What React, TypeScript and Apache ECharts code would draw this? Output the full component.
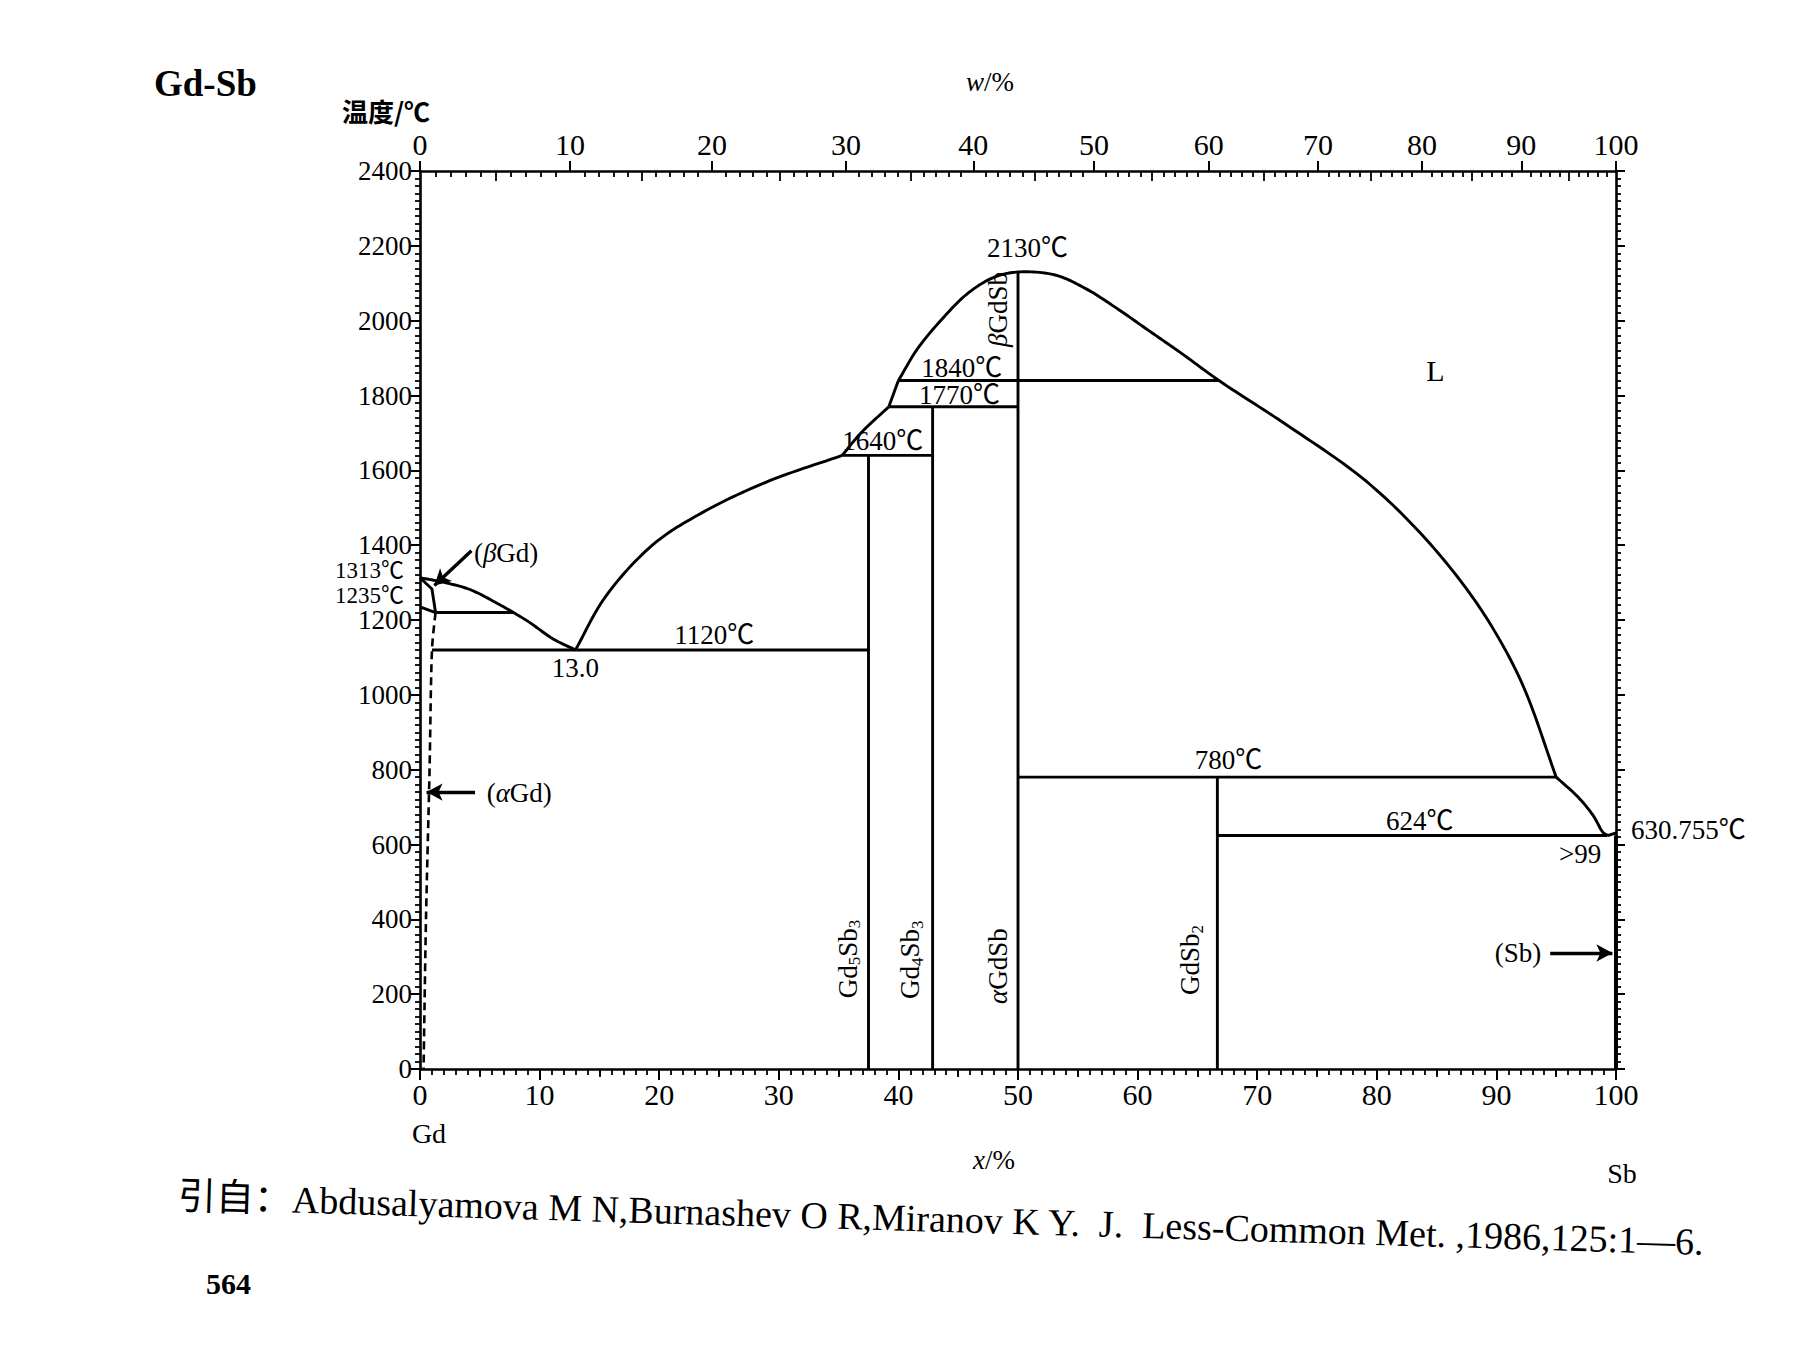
import React, { useEffect, useRef } from "react";
import * as echarts from "echarts";

const SERIF = "'Liberation Serif','Times New Roman','Noto Sans CJK SC',serif";
const CJK = "'Noto Sans CJK SC','Liberation Serif',sans-serif";

// ---- axis ticks ----
const wMajor = [0, 10, 20, 30, 40, 50, 60, 70, 80, 90, 100];
const wMid = [5, 15, 25, 35, 45, 55, 65, 75, 85, 95];
const tempTicks = [0, 200, 400, 600, 800, 1000, 1200, 1400, 1600, 1800, 2000, 2200, 2400];
const M_GD = 157.25;
const M_SB = 121.76;

// ---- phase boundaries (x = at.% Sb, y = temperature °C) ----
const liquidusGd = [[0, 1313], [2.1, 1300], [4.2, 1281], [6.6, 1242], [9.0, 1197], [11.1, 1150], [13.0, 1120]];
const liquidusToGd5Sb3 = [[13.0, 1120], [15.5, 1262], [19.5, 1402], [23.6, 1487], [28.9, 1568], [35.3, 1640]];
const liquidus1640to1770 = [[35.3, 1640], [36.9, 1701], [39.2, 1770]];
const liquidus1770to1840 = [[39.2, 1770], [40.0, 1840]];
const liquidusGdSbLeft = [[40.0, 1840], [41.6, 1925], [43.5, 1999], [45.8, 2073], [48.0, 2116], [50.0, 2130]];
const liquidusGdSbRight = [[50.0, 2130], [53.1, 2122], [55.7, 2085], [58.4, 2030], [61.0, 1972], [63.7, 1912], [66.8, 1840]];
const liquidusSbSide = [[66.8, 1840], [72.2, 1727], [78.8, 1579], [83.3, 1444], [87.3, 1292], [90.0, 1162], [92.3, 1019], [95.0, 780]];
const liquidusSbEnd = [[95.0, 780], [96.85, 726], [98.1, 677], [98.9, 633], [99.3, 624]];
const sbMelting = [[99.3, 624], [100, 630.755]];
const betaGdSolidus = [[0, 1313], [1.0, 1283], [1.3, 1220]];
const betaAlphaGd = [[0, 1235], [1.3, 1220]];
const alphaGdSolvus = [[1.3, 1220], [1.0, 1120], [0.8, 800], [0.5, 400], [0.3, 0]];
const iso1220 = [[1.3, 1220], [7.8, 1220]];
const iso1120 = [[1.0, 1120], [37.5, 1120]];
const iso1640 = [[35.3, 1640], [42.86, 1640]];
const iso1770 = [[39.2, 1770], [50, 1770]];
const iso1840 = [[40.0, 1840], [66.8, 1840]];
const iso780 = [[50, 780], [95.0, 780]];
const iso624 = [[66.67, 624], [99.3, 624]];
const gd5sb3 = [[37.5, 0], [37.5, 1640]];
const gd4sb3 = [[42.86, 0], [42.86, 1770]];
const gdsb = [[50, 0], [50, 2130]];
const gdsb2 = [[66.67, 0], [66.67, 780]];
const sbSolid = [[100, 0], [100, 624]];

// ---- arrows [from, to] ----
const arrowBetaGd = [[4.3, 1385], [1.2, 1292]];
const arrowAlphaGd = [[4.6, 740], [0.55, 740]];
const arrowSb = [[94.5, 310], [99.7, 310]];

// ---- annotation texts (data coordinates) ----
const annotations: any[] = [
  { text: "2130℃", x: 50.8, y: 2195 },
  { text: "1840℃", x: 45.3, y: 1874 },
  { text: "1770℃", x: 45.1, y: 1802 },
  { text: "1640℃", x: 38.7, y: 1678 },
  { text: "1120℃", x: 24.6, y: 1160 },
  { text: "13.0", x: 13.0, y: 1073 },
  { text: "780℃", x: 67.6, y: 827 },
  { text: "624℃", x: 83.6, y: 662 },
  { text: ">99", x: 97.0, y: 574 },
  { text: "630.755℃", x: 100, y: 639, dx: 15, align: "left" },
  { text: "(Sb)", x: 91.8, y: 310 },
  { text: "L", x: 84.9, y: 1867, size: 30 },
  { text: "({i|α}Gd)", x: 8.3, y: 737 },
  { text: "({i|β}Gd)", x: 7.2, y: 1380 },
  { text: "1313℃", x: 0, y: 1331, dx: -16, align: "right", size: 23 },
  { text: "1235℃", x: 0, y: 1266, dx: -16, align: "right", size: 23 },
  { text: "{i|β}GdSb", x: 48.3, y: 2030, rot: true },
  { text: "Gd{s|5}Sb{s|3}", x: 35.75, y: 294, rot: true },
  { text: "Gd{s|4}Sb{s|3}", x: 41.0, y: 292, rot: true },
  { text: "{i|α}GdSb", x: 48.3, y: 275, rot: true },
  { text: "GdSb{s|2}", x: 64.4, y: 291, rot: true },
];

const wToX = (w: number) =>
  w <= 0 ? 0 : w >= 100 ? 100 : (100 * (w / M_SB)) / (w / M_SB + (100 - w) / M_GD);

const wMinor: number[] = [];
for (let w = 1; w < 100; w++) if (w % 5 !== 0) wMinor.push(w);

const BLACK = "#000";
const LW = 2.9;

// centripetal Catmull-Rom through the (pixel) points, for drawing only
function spline(pts: number[][], steps = 14): number[][] {
  if (pts.length < 3) return pts;
  const out: number[][] = [];
  const n = pts.length;
  const get = (i: number) => {
    if (i < 0) return [2 * pts[0][0] - pts[1][0], 2 * pts[0][1] - pts[1][1]];
    if (i >= n) return [2 * pts[n - 1][0] - pts[n - 2][0], 2 * pts[n - 1][1] - pts[n - 2][1]];
    return pts[i];
  };
  const d = (a: number[], b: number[]) => Math.max(Math.sqrt(Math.hypot(b[0] - a[0], b[1] - a[1])), 1e-4);
  const lerp = (a: number[], b: number[], ta: number, tb: number, t: number) => {
    const u = (t - ta) / (tb - ta);
    return [a[0] + (b[0] - a[0]) * u, a[1] + (b[1] - a[1]) * u];
  };
  for (let i = 0; i < n - 1; i++) {
    const P0 = get(i - 1), P1 = get(i), P2 = get(i + 1), P3 = get(i + 2);
    const t0 = 0, t1 = t0 + d(P0, P1), t2 = t1 + d(P1, P2), t3 = t2 + d(P2, P3);
    for (let k = 0; k < steps; k++) {
      const t = t1 + ((t2 - t1) * k) / steps;
      const A1 = lerp(P0, P1, t0, t1, t);
      const A2 = lerp(P1, P2, t1, t2, t);
      const A3 = lerp(P2, P3, t2, t3, t);
      const B1 = lerp(A1, A2, t0, t2, t);
      const B2 = lerp(A2, A3, t1, t3, t);
      out.push(lerp(B1, B2, t1, t2, t));
    }
  }
  out.push(pts[n - 1]);
  return out;
}

function curve(data: number[][], width = LW) {
  return {
    type: "custom",
    coordinateSystem: "cartesian2d",
    xAxisIndex: 0,
    yAxisIndex: 0,
    silent: true,
    data: [data[0]],
    z: 3,
    renderItem: (_params: any, api: any) => {
      const pts = data.map((p) => api.coord(p));
      return {
        type: "polyline",
        shape: { points: spline(pts) },
        style: { stroke: BLACK, lineWidth: width, fill: "none", lineJoin: "round" },
      };
    },
  };
}

function seg(data: number[][], smooth: number | boolean = false, dashed = false, width = LW) {
  return {
    type: "line",
    data,
    symbol: "none",
    silent: true,
    smooth,
    xAxisIndex: 0,
    yAxisIndex: 0,
    lineStyle: { color: BLACK, width, type: dashed ? [8, 5] : "solid" },
    z: 3,
  };
}

function buildOption() {
  const baseX = { type: "value", min: 0, max: 100, splitLine: { show: false } };
  const tickStyle = { color: BLACK, width: 1.8 };
  const topCurve = liquidusGdSbLeft.concat(liquidusGdSbRight.slice(1), liquidusSbSide.slice(1));
  return {
    animation: false,
    backgroundColor: "#fff",
    grid: { left: 412, right: 171, top: 163, bottom: 269, containLabel: false },
    xAxis: [
      {
        ...baseX,
        position: "bottom",
        interval: 10,
        axisLine: { show: true, onZero: false, lineStyle: { color: BLACK, width: 2.6 } },
        axisTick: { show: true, inside: false, length: 11, lineStyle: { color: BLACK, width: 2 } },
        minorTick: { show: true, splitNumber: 10, length: 6, lineStyle: tickStyle },
        axisLabel: { color: BLACK, fontSize: 30, fontFamily: SERIF, margin: 10, formatter: (v: number) => String(v) },
      },
      {
        ...baseX,
        position: "top",
        axisLine: { show: true, onZero: false, lineStyle: { color: BLACK, width: 2.6 } },
        axisTick: { show: true, inside: false, length: 10, customValues: wMajor.map(wToX), lineStyle: { color: BLACK, width: 2 } },
        axisLabel: {
          color: BLACK,
          fontSize: 30,
          fontFamily: SERIF,
          margin: 12,
          customValues: wMajor.map(wToX),
          formatter: (v: number) => {
            const i = wMajor.findIndex((w) => Math.abs(wToX(w) - v) < 1e-6);
            return i >= 0 ? String(wMajor[i]) : "";
          },
        },
      },
      {
        ...baseX,
        position: "top",
        axisLine: { show: false, onZero: false },
        axisTick: { show: true, inside: true, length: 6, customValues: wMinor.map(wToX), lineStyle: tickStyle },
        axisLabel: { show: false },
      },
      {
        ...baseX,
        position: "top",
        axisLine: { show: false, onZero: false },
        axisTick: { show: true, inside: true, length: 10, customValues: wMid.map(wToX), lineStyle: tickStyle },
        axisLabel: { show: false },
      },
      {
        ...baseX,
        position: "bottom",
        interval: 5,
        axisLine: { show: false, onZero: false },
        axisTick: { show: true, inside: false, length: 8, lineStyle: tickStyle },
        axisLabel: { show: false },
      },
    ],
    yAxis: [
      {
        type: "value",
        position: "left",
        min: tempTicks[0],
        max: tempTicks[tempTicks.length - 1],
        interval: 200,
        splitLine: { show: false },
        axisLine: { show: true, onZero: false, lineStyle: { color: BLACK, width: 2.6 } },
        axisTick: { show: true, inside: false, length: 9, lineStyle: { color: BLACK, width: 2 } },
        minorTick: { show: true, splitNumber: 10, length: 5, lineStyle: tickStyle },
        axisLabel: { color: BLACK, fontSize: 27, fontFamily: SERIF, margin: 8, formatter: (v: number) => String(v) },
      },
      {
        type: "value",
        position: "right",
        min: tempTicks[0],
        max: tempTicks[tempTicks.length - 1],
        interval: 200,
        splitLine: { show: false },
        axisLine: { show: true, onZero: false, lineStyle: { color: BLACK, width: 2.6 } },
        axisTick: { show: true, inside: false, length: 9, lineStyle: { color: BLACK, width: 2 } },
        minorTick: { show: true, splitNumber: 10, length: 5, lineStyle: tickStyle },
        axisLabel: { show: false },
      },
    ],
    series: [
      curve(liquidusGd),
      curve(liquidusToGd5Sb3),
      curve(liquidus1640to1770),
      seg(liquidus1770to1840),
      curve(topCurve),
      curve(liquidusSbEnd),
      seg(sbMelting),
      seg(betaGdSolidus),
      seg(betaAlphaGd),
      seg(alphaGdSolvus, 0.3, true, 2.6),
      seg(iso1220),
      seg(iso1120),
      seg(iso1640),
      seg(iso1770),
      seg(iso1840),
      seg(iso780),
      seg(iso624),
      seg(gd5sb3),
      seg(gd4sb3),
      seg(gdsb),
      seg(gdsb2),
      seg(sbSolid, false, false, 4),
      {
        type: "line",
        data: [],
        symbol: "none",
        silent: true,
        markLine: {
          silent: true,
          animation: false,
          symbol: ["none", "arrow"],
          symbolSize: [13, 16],
          label: { show: false },
          lineStyle: { color: BLACK, width: 3.4, type: "solid" },
          data: [arrowBetaGd, arrowAlphaGd, arrowSb].map((a) => [
            { coord: a[0] },
            { coord: a[1] },
          ]),
        },
      },
    ],
  };
}

const richStyles = (size: number) => ({
  n: { fontSize: size, fontFamily: SERIF, color: BLACK, lineHeight: size + 4, verticalAlign: "middle" },
  i: { fontSize: size, fontFamily: SERIF, fontStyle: "italic", color: BLACK, lineHeight: size + 4, verticalAlign: "middle" },
  s: { fontSize: Math.round(size * 0.62), fontFamily: SERIF, color: BLACK, lineHeight: Math.round(size * 0.55), verticalAlign: "bottom" },
});

function wrapRich(t: string) {
  const parts: string[] = [];
  const re = /\{(\w)\|([^}]*)\}/g;
  let last = 0;
  let m: RegExpExecArray | null;
  while ((m = re.exec(t))) {
    if (m.index > last) parts.push(`{n|${t.slice(last, m.index)}}`);
    parts.push(m[0]);
    last = m.index + m[0].length;
  }
  if (last < t.length) parts.push(`{n|${t.slice(last)}}`);
  return parts.join("");
}

export default function App() {
  const ref = useRef<HTMLDivElement>(null);
  useEffect(() => {
    if (!ref.current) return;
    const chart = echarts.init(ref.current, null, { renderer: "svg" });
    chart.setOption(buildOption() as any);

    const graphics: any[] = [];
    annotations.forEach((a) => {
      const p = chart.convertToPixel({ gridIndex: 0 }, [a.x, a.y]) as number[];
      const size = a.size || 27;
      graphics.push({
        type: "text",
        x: p[0] + (a.dx || 0),
        y: p[1],
        rotation: a.rot ? Math.PI / 2 : 0,
        silent: true,
        style: {
          text: wrapRich(a.text),
          rich: richStyles(size),
          align: a.align || "center",
          verticalAlign: "middle",
          fill: BLACK,
        },
        z: 10,
      });
    });

    const fixedTexts: any[] = [
      { text: "Gd-Sb", x: 146, y: 75, font: { fontSize: 37, fontWeight: "bold", fontFamily: SERIF } },
      { text: "温度/℃", x: 334, y: 102, font: { fontSize: 26, fontFamily: CJK, fontWeight: "bold" } },
      { text: "{i|w}{n|/%}", x: 982, y: 74, align: "center", richSize: 27 },
      { text: "Gd", x: 421, y: 1125, align: "center", font: { fontSize: 28, fontFamily: SERIF } },
      { text: "{i|x}{n|/%}", x: 986, y: 1152, align: "center", richSize: 27 },
      { text: "Sb", x: 1614, y: 1165, align: "center", font: { fontSize: 28, fontFamily: SERIF } },
      { text: "564", x: 198, y: 1275, font: { fontSize: 30, fontWeight: "bold", fontFamily: SERIF } },
    ];
    fixedTexts.forEach((f) => {
      graphics.push({
        type: "text",
        x: f.x,
        y: f.y,
        silent: true,
        style: f.richSize
          ? { text: f.text, rich: richStyles(f.richSize), align: f.align || "left", verticalAlign: "middle", fill: BLACK }
          : { text: f.text, ...f.font, align: f.align || "left", verticalAlign: "middle", fill: BLACK },
      });
    });
    graphics.push({
      type: "text",
      x: 170,
      y: 1188,
      rotation: -0.03,
      silent: true,
      style: {
        text: "引自：Abdusalyamova M N,Burnashev O R,Miranov K Y.  J.  Less-Common Met. ,1986,125:1—6.",
        fontSize: 38,
        fontFamily: SERIF,
        align: "left",
        verticalAlign: "middle",
        fill: BLACK,
      },
    });

    chart.setOption({ graphic: graphics });
    return () => chart.dispose();
  }, []);
  return <div ref={ref} style={{ width: 1779, height: 1330 }} />;
}
